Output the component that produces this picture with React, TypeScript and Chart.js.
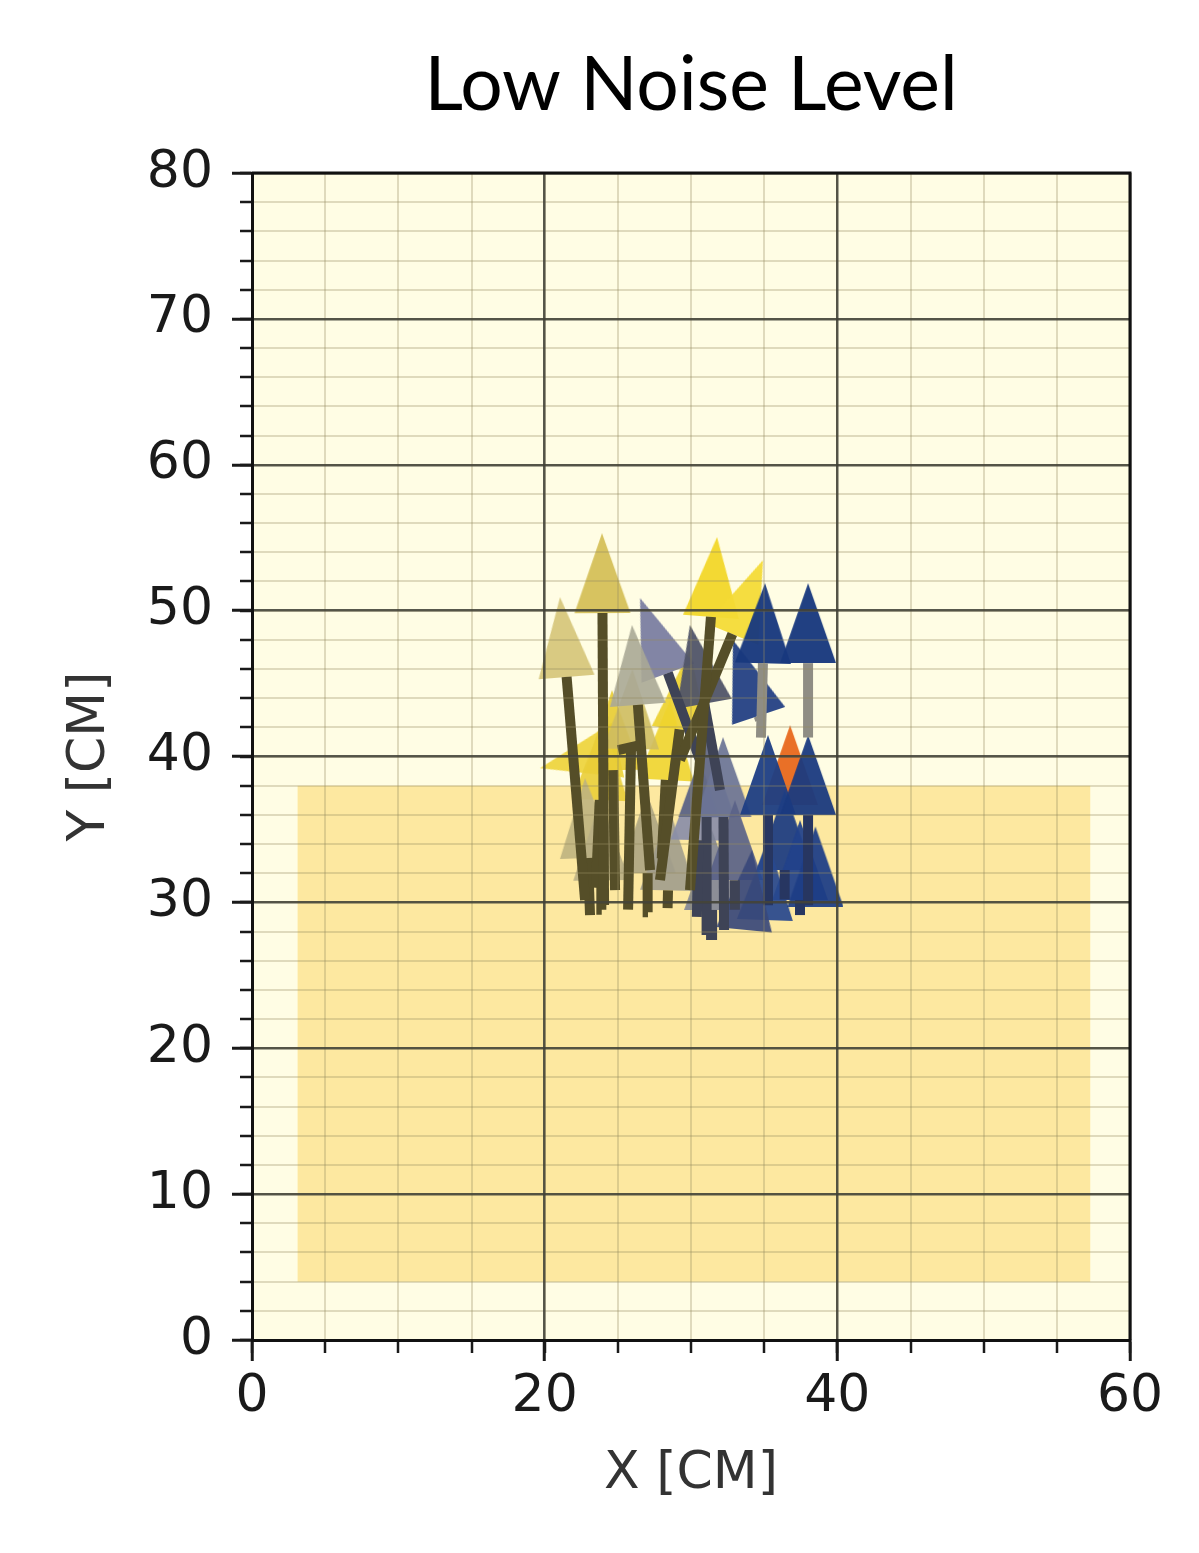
import React, { useEffect, useRef } from 'react';
import { Chart, registerables } from 'chart.js';

Chart.register(...registerables);

const chartTitle = 'Low Noise Level';
const xAxisTitle = 'X [CM]';
const yAxisTitle = 'Y [CM]';

const xMajorTicks = [0, 20, 40, 60];
const yMajorTicks = [0, 10, 20, 30, 40, 50, 60, 70, 80];
const xMinorTicks = [0, 5, 10, 15, 20, 25, 30, 35, 40, 45, 50, 55, 60];
const yMinorTicks = [
  0, 2, 4, 6, 8, 10, 12, 14, 16, 18, 20, 22, 24, 26, 28, 30, 32, 34, 36, 38, 40,
  42, 44, 46, 48, 50, 52, 54, 56, 58, 60, 62, 64, 66, 68, 70, 72, 74, 76, 78, 80,
];

// shaded region (x range, y range)
const regionX = [3.1, 57.3];
const regionY = [4, 38];

// arrows: tail -> tip
const arrowTailX = [22.76, 24.06, 29.93, 29.25, 26.52, 24.81, 27.88, 28.0, 23.5, 25.7, 30.62, 27.2, 23.1, 27.06, 23.9, 28.4, 31.98, 30.4, 31.03, 32.26, 31.44, 33.0, 34.72, 36.77, 34.78, 38.0, 36.4, 35.26, 38.0, 37.45, 35.06, 33.69, 38.5];
const arrowTailY = [30.16, 29.82, 30.84, 39.75, 40.78, 30.84, 31.53, 33.0, 31.0, 29.5, 39.75, 32.21, 29.13, 29.33, 29.5, 29.6, 37.7, 29.0, 27.76, 28.1, 27.42, 29.5, 42.5, 37.01, 41.3, 41.3, 30.2, 29.81, 29.81, 29.13, 29.13, 28.79, 30.0];
const arrowTipX = [21.05, 23.92, 31.78, 34.92, 19.68, 24.6, 29.93, 28.56, 24.0, 26.0, 26.52, 25.97, 22.76, 26.99, 23.8, 28.56, 29.93, 30.62, 31.09, 32.19, 31.44, 33.0, 32.87, 36.77, 35.06, 38.0, 36.4, 35.26, 38.0, 37.45, 35.26, 34.17, 38.5];
const arrowTipY = [50.92, 55.31, 55.04, 53.46, 39.2, 44.55, 47.29, 43.87, 42.5, 46.0, 50.86, 49.01, 38.52, 37.49, 37.0, 36.3, 49.01, 39.75, 41.33, 41.33, 34.96, 37.0, 47.98, 42.15, 51.88, 51.88, 37.7, 41.47, 41.47, 35.64, 34.27, 33.58, 35.2];
const arrowHeadColors = [
  'rgba(214,198,122,0.92)', 'rgba(212,190,86,0.93)', 'rgba(242,214,38,0.93)', 'rgba(244,218,52,0.93)',
  'rgba(238,212,60,0.92)', 'rgba(232,204,50,0.9)', 'rgba(236,208,44,0.9)', 'rgba(240,212,46,0.9)',
  'rgba(234,206,56,0.9)', 'rgba(206,188,96,0.9)', 'rgba(120,124,160,0.93)', 'rgba(170,168,150,0.9)',
  'rgba(190,178,128,0.9)', 'rgba(172,164,130,0.9)', 'rgba(184,174,132,0.9)', 'rgba(160,156,140,0.9)',
  'rgba(80,84,104,0.95)', 'rgba(138,142,168,0.92)', 'rgba(96,102,132,0.93)', 'rgba(108,116,150,0.93)',
  'rgba(128,132,150,0.9)', 'rgba(90,98,136,0.93)', 'rgba(36,64,132,0.95)', 'rgba(232,104,28,0.95)',
  'rgba(24,56,126,0.96)', 'rgba(24,56,126,0.96)', 'rgba(32,62,130,0.95)', 'rgba(30,62,132,0.95)',
  'rgba(26,58,128,0.95)', 'rgba(34,66,138,0.94)', 'rgba(40,72,142,0.93)', 'rgba(56,72,122,0.92)',
  'rgba(30,62,134,0.94)',
];
const arrowShaftColors = [
  '#554e28', '#554e28', '#554e28', '#554e28', '#554e28', '#554e28', '#554e28', '#554e28',
  '#554e28', '#554e28', '#3e4356', '#554e28', '#554e28', '#554e28', '#554e28', '#554e28',
  '#3e4356', '#3e4356', '#3e4356', '#3e4356', '#3e4356', '#3e4356', '#8f8d84', '#8f8d84',
  '#8f8d84', '#8f8d84', '#273661', '#273661', '#273661', '#273661', '#273661', '#273661',
  '#273661',
];

const HEAD_W = 56;
const HEAD_L = 80;
const PX_PER_UNIT = 14.6;

function makeHead(color: string): HTMLCanvasElement {
  const c = document.createElement('canvas');
  c.width = HEAD_W;
  c.height = HEAD_L * 2;
  const g = c.getContext('2d')!;
  g.fillStyle = color;
  g.beginPath();
  g.moveTo(HEAD_W / 2, HEAD_L);
  g.lineTo(HEAD_W, HEAD_L * 2);
  g.lineTo(0, HEAD_L * 2);
  g.closePath();
  g.fill();
  return c;
}

const tickFont = { family: 'DejaVu Sans', size: 52 };

export default function App() {
  const ref = useRef<HTMLCanvasElement | null>(null);

  useEffect(() => {
    if (!ref.current) return;
    const heads = arrowHeadColors.map(makeHead);
    const rotations = arrowTipX.map((tx, i) => {
      const dx = tx - arrowTailX[i];
      const dy = arrowTipY[i] - arrowTailY[i];
      return (Math.atan2(dx, dy) * 180) / Math.PI;
    });
    const headLenUnits = HEAD_L / PX_PER_UNIT;

    const shaftSets: any[] = [];
    arrowTipX.forEach((tx, i) => {
      const dx = tx - arrowTailX[i];
      const dy = arrowTipY[i] - arrowTailY[i];
      const len = Math.hypot(dx, dy);
      if (len <= headLenUnits) return;
      const ex = tx - (dx / len) * headLenUnits;
      const ey = arrowTipY[i] - (dy / len) * headLenUnits;
      shaftSets.push({
        type: 'line',
        data: [
          { x: arrowTailX[i], y: arrowTailY[i] },
          { x: ex, y: ey },
        ],
        borderColor: arrowShaftColors[i],
        borderWidth: 10,
        borderCapStyle: 'butt',
        pointRadius: 0,
        fill: false,
        tension: 0,
        order: 10,
        xAxisID: 'x',
        yAxisID: 'y',
      });
    });

    const bgPlugin = {
      id: 'areaBg',
      beforeDraw(chart: any) {
        const { ctx, chartArea: a } = chart;
        ctx.save();
        ctx.fillStyle = '#fffde4';
        ctx.fillRect(a.left, a.top, a.right - a.left, a.bottom - a.top);
        ctx.restore();
      },
    };
    const framePlugin = {
      id: 'frame',
      afterDraw(chart: any) {
        const { ctx, chartArea: a } = chart;
        ctx.save();
        ctx.strokeStyle = '#111';
        ctx.lineWidth = 3;
        ctx.beginPath();
        ctx.moveTo(a.left, a.top);
        ctx.lineTo(a.right, a.top);
        ctx.lineTo(a.right, a.bottom);
        ctx.stroke();
        ctx.restore();
      },
    };

    const chart = new Chart(ref.current, {
      type: 'scatter',
      data: {
        datasets: [
          {
            type: 'line',
            data: [
              { x: regionX[0], y: regionY[1] },
              { x: regionX[1], y: regionY[1] },
            ],
            borderWidth: 0,
            borderColor: 'rgba(0,0,0,0)',
            pointRadius: 0,
            backgroundColor: '#fde8a0',
            fill: { value: regionY[0] },
            order: 100,
            xAxisID: 'x',
            yAxisID: 'y',
          } as any,
          {
            type: 'scatter',
            data: arrowTipX.map((x, i) => ({ x, y: arrowTipY[i] })),
            pointStyle: heads as any,
            pointRotation: rotations,
            pointRadius: 1,
            pointHoverRadius: 1,
            order: 50,
            xAxisID: 'x',
            yAxisID: 'y',
          } as any,
          ...shaftSets,
        ],
      },
      options: {
        responsive: false,
        animation: false,
        devicePixelRatio: 1,
        events: [],
        layout: { padding: { left: 0, right: 69, top: 0, bottom: 0 } },
        plugins: {
          legend: { display: false },
          tooltip: { enabled: false },
          title: {
            display: true,
            text: chartTitle,
            fullSize: false,
            align: 'center',
            color: '#000',
            font: { family: 'Lato', size: 75, weight: 'normal' },
            padding: { top: 41, bottom: 42 },
          },
        },
        scales: {
          x: {
            type: 'linear',
            axis: 'x',
            position: 'bottom',
            min: 0,
            max: 60,
            weight: 1,
            afterBuildTicks: (s: any) => {
              s.ticks = xMajorTicks.map((v) => ({ value: v }));
            },
            afterFit: (s: any) => {
              s.height = 213;
            },
            ticks: { font: tickFont, color: '#1a1a1a', padding: 5, maxRotation: 0, autoSkip: false },
            grid: { color: 'rgba(65,65,55,0.88)', lineWidth: 2.5, tickLength: 21, tickColor: '#1a1a1a', tickWidth: 3, z: 2 },
            border: { display: true, color: '#111', width: 3, z: 3 },
            title: { display: true, text: xAxisTitle, font: tickFont, color: '#333', padding: { top: 0, bottom: 47 } },
          },
          xMinor: {
            type: 'linear',
            axis: 'x',
            position: 'bottom',
            min: 0,
            max: 60,
            weight: 0,
            afterBuildTicks: (s: any) => {
              s.ticks = xMinorTicks.map((v) => ({ value: v }));
            },
            afterFit: (s: any) => {
              s.height = 0;
            },
            ticks: { display: false },
            grid: { color: 'rgba(150,140,95,0.3)', lineWidth: 2, tickLength: 13, tickColor: '#1a1a1a', tickWidth: 2.5, z: 1 },
            border: { display: false },
          },
          y: {
            type: 'linear',
            axis: 'y',
            position: 'left',
            min: 0,
            max: 80,
            weight: 1,
            afterBuildTicks: (s: any) => {
              s.ticks = yMajorTicks.map((v) => ({ value: v }));
            },
            afterFit: (s: any) => {
              s.width = 252;
            },
            ticks: { font: tickFont, color: '#1a1a1a', padding: 19, autoSkip: false },
            grid: { color: 'rgba(65,65,55,0.88)', lineWidth: 2.5, tickLength: 20, tickColor: '#1a1a1a', tickWidth: 3, z: 2 },
            border: { display: true, color: '#111', width: 3, z: 3 },
            title: { display: true, text: yAxisTitle, font: tickFont, color: '#333', padding: { top: 59, bottom: 0 } },
          },
          yMinor: {
            type: 'linear',
            axis: 'y',
            position: 'left',
            min: 0,
            max: 80,
            weight: 0,
            afterBuildTicks: (s: any) => {
              s.ticks = yMinorTicks.map((v) => ({ value: v }));
            },
            afterFit: (s: any) => {
              s.width = 0;
            },
            ticks: { display: false },
            grid: { color: 'rgba(150,140,95,0.3)', lineWidth: 2, tickLength: 12, tickColor: '#1a1a1a', tickWidth: 2.5, z: 1 },
            border: { display: false },
          },
        } as any,
      },
      plugins: [bgPlugin, framePlugin],
    });
    return () => chart.destroy();
  }, []);

  return (
    <div style={{ position: 'fixed', left: 0, top: 0, width: 1199, height: 1553, background: '#fff' }}>
      <canvas ref={ref} width={1199} height={1553} style={{ display: 'block', width: 1199, height: 1553 }} />
    </div>
  );
}
